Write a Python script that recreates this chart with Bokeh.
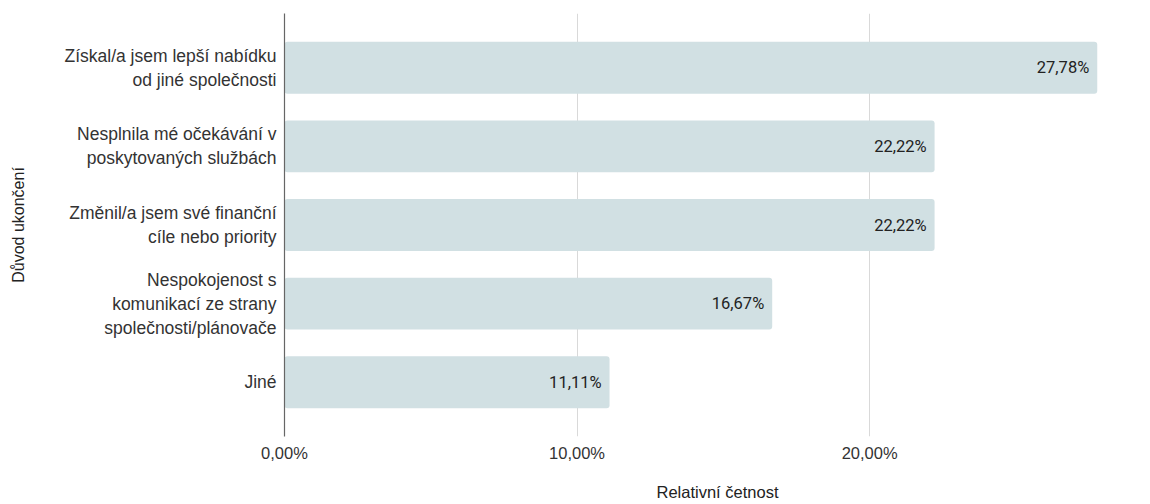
from bokeh.plotting import figure
from bokeh.models import FactorRange, Range1d, FixedTicker, ColumnDataSource
from bokeh.core.properties import value
from bokeh.embed import file_html
from bokeh.resources import INLINE

categories = [
    "Získal/a jsem lepší nabídku\nod jiné společnosti",
    "Nesplnila mé očekávání v\nposkytovaných službách",
    "Změnil/a jsem své finanční\ncíle nebo priority",
    "Nespokojenost s\nkomunikací ze strany\nspolečnosti/plánovače",
    "Jiné",
]
values = [27.78, 22.22, 22.22, 16.67, 11.11]
tick_values = [0, 10, 20]
tick_labels = ["0,00%", "10,00%", "20,00%"]
x_title = "Relativní četnost"
y_title = "Důvod ukončení"

value_labels = [f"{v:.2f}".replace(".", ",") + "%" for v in values]
source = ColumnDataSource(dict(cat=categories, val=values, lab=value_labels))

p = figure(
    width=1150, height=504,
    y_range=FactorRange(factors=list(reversed(categories)), range_padding=0.19,
                        range_padding_units="absolute"),
    x_range=Range1d(0, 29.6),
    output_backend="svg", toolbar_location=None,
    min_border_left=284, min_border_right=0, min_border_top=13, min_border_bottom=68,
)
p.outline_line_color = None
p.background_fill_color = "white"
p.border_fill_color = "white"

p.hbar(y="cat", right="val", left=0, height=0.66, source=source,
       fill_color="#d1e0e3", line_color=None, border_radius=3)
p.text(x="val", y="cat", text="lab", source=source, x_offset=-8,
       text_align="right", text_baseline="middle",
       text_font=value("Roboto"), text_font_size="16.5px", text_color="#222222")

# x axis
xa = p.xaxis[0]
xa.ticker = FixedTicker(ticks=tick_values)
xa.major_label_overrides = {t: l for t, l in zip(tick_values, tick_labels)}
xa.axis_line_color = None
xa.major_tick_line_color = None
xa.minor_tick_line_color = None
xa.major_tick_out = 0
xa.major_tick_in = 0
xa.major_label_standoff = 7
xa.major_label_text_font = "Liberation Sans"
xa.major_label_text_font_size = "16.5px"
xa.major_label_text_color = "#333333"
xa.axis_label = x_title
xa.axis_label_text_font = "Liberation Sans"
xa.axis_label_text_font_size = "16.5px"
xa.axis_label_text_font_style = "normal"
xa.axis_label_text_color = "#222222"
xa.axis_label_standoff = 18

# y axis
ya = p.yaxis[0]
ya.axis_line_color = "#666666"
ya.axis_line_width = 1.2
ya.major_tick_line_color = None
ya.minor_tick_line_color = None
ya.major_tick_out = 0
ya.major_tick_in = 0
ya.major_label_standoff = 8
ya.major_label_text_font = "Liberation Sans"
ya.major_label_text_font_size = "17.5px"
ya.major_label_text_color = "#333333"
ya.axis_label = y_title
ya.axis_label_text_font = "Liberation Sans"
ya.axis_label_text_font_size = "16px"
ya.axis_label_text_font_style = "normal"
ya.axis_label_text_color = "#222222"
ya.axis_label_standoff = 34

p.ygrid.grid_line_color = None
p.xgrid.ticker = FixedTicker(ticks=tick_values)
p.xgrid.grid_line_color = "#d9d9d9"
p.xgrid.grid_line_width = 1

open("out.html", "w").write(file_html(p, INLINE))
